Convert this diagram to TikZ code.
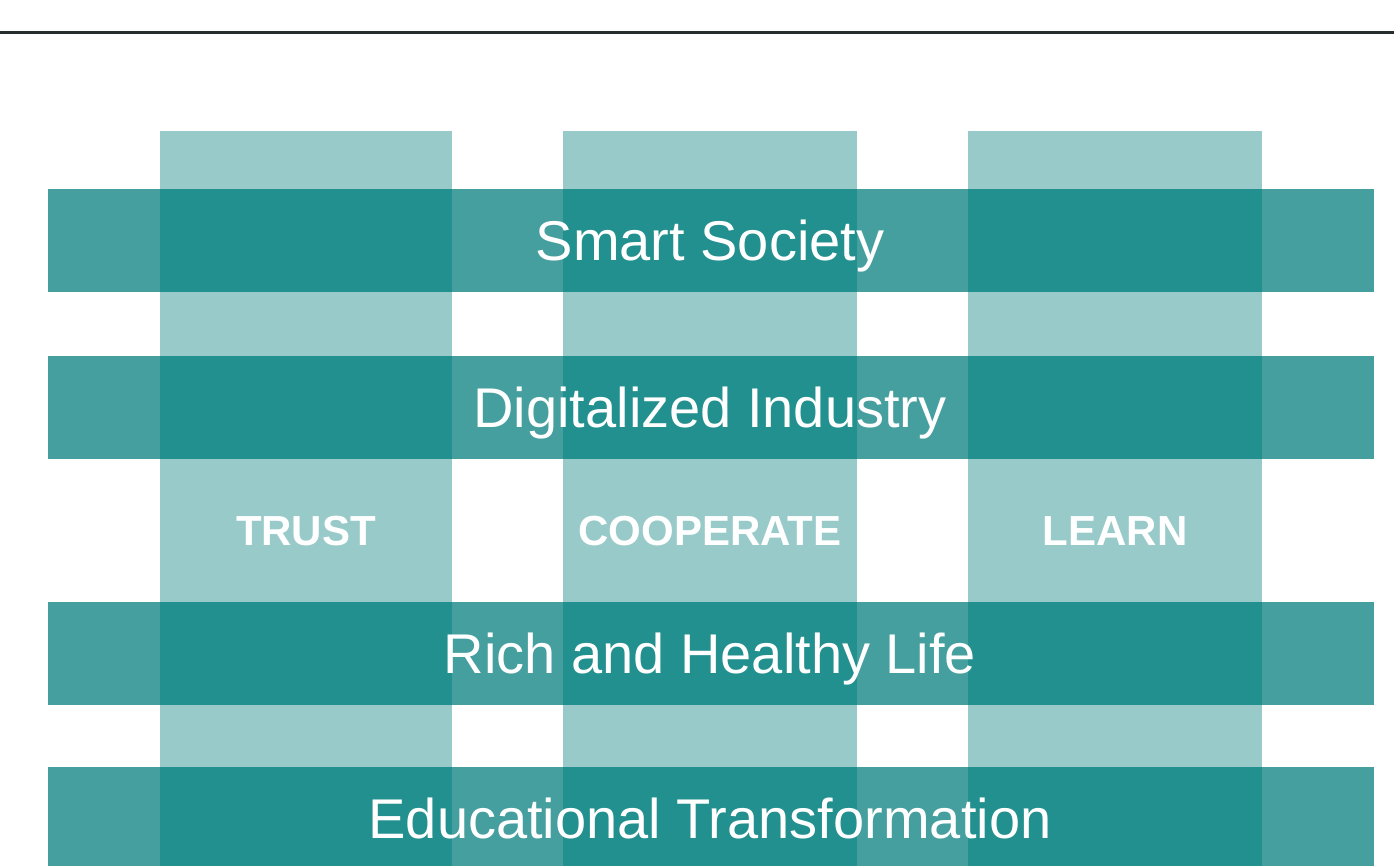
\documentclass[tikz,border=0pt]{standalone}
\usepackage{fontspec}
\setmainfont{Liberation Sans}
\definecolor{colL}{HTML}{99CACA}
\definecolor{rowM}{HTML}{469F9F}
\definecolor{rowD}{HTML}{21908F}
\definecolor{ruleC}{HTML}{262D2D}
\tikzset{
  rowtext/.style={text=white, anchor=base, font=\fontsize{56}{60}\selectfont, inner sep=0pt},
  coltext/.style={text=white, anchor=base, font=\bfseries\fontsize{42}{46}\selectfont, inner sep=0pt},
}
\begin{document}
\begin{tikzpicture}[x=1pt,y=-1pt]
\useasboundingbox (0,0) rectangle (1394,866);
\fill[white] (0,0) rectangle (1394,866);
\clip (0,0) rectangle (1394,866);
% top rule
\fill[ruleC] (0,31.5) rectangle (1394,34.5);
% columns
\foreach \a/\b in {160/452,563/857,968/1262}
  \fill[colL] (\a,131) rectangle (\b,880);
% rows
\foreach \t/\u in {189/292,356/459,602/705,767/870}{
  \fill[rowM] (48,\t) rectangle (1374,\u);
  \foreach \a/\b in {160/452,563/857,968/1262}
    \fill[rowD] (\a,\t) rectangle (\b,\u);
}
% row labels
\node[rowtext] (r1) at (710,260.5) {Smart Society};
\node[rowtext] (r2) at (710,427.5) {Digitalized Industry};
\node[rowtext] (r3) at (710,673.5) {Rich and Healthy Life};
\node[rowtext] (r4) at (710,838.5) {Educational Transformation};
% column labels
\node[coltext] (c1) at (306,545) {TRUST};
\node[coltext] (c2) at (710,545) {COOPERATE};
\node[coltext] (c3) at (1115,545) {LEARN};
\end{tikzpicture}
\end{document}
